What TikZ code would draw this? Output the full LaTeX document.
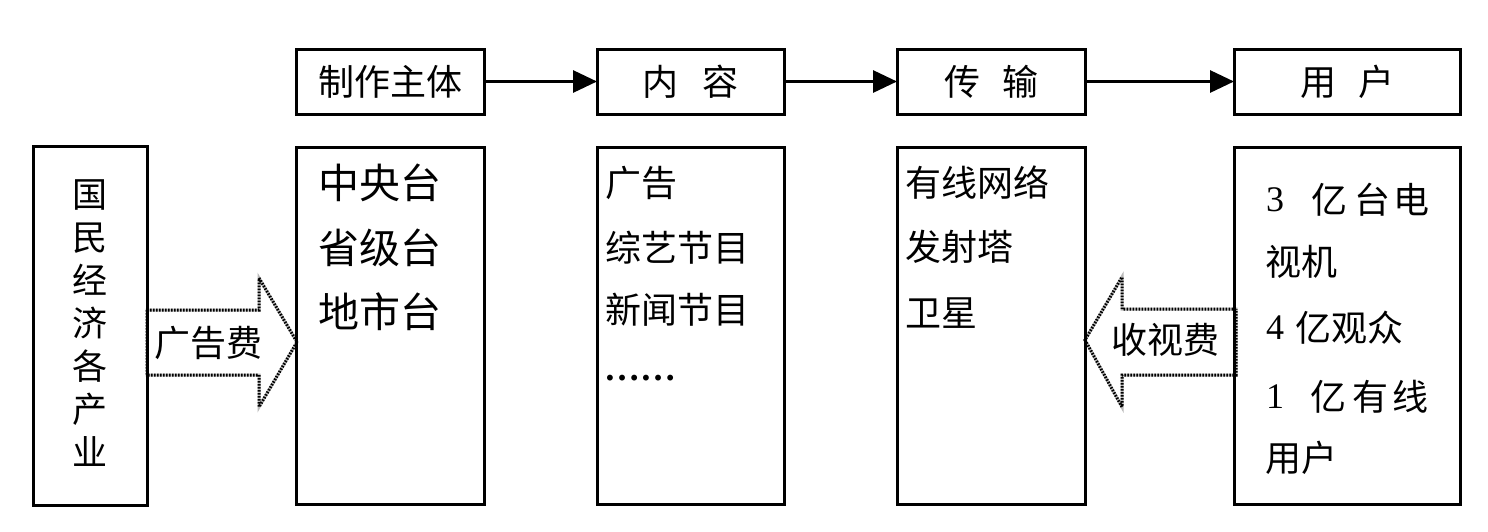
\documentclass[tikz,border=0pt]{standalone}
\usepackage{fontspec}
\setmainfont{Liberation Serif}
\newfontfamily\cjk{Noto Sans CJK SC}
\usetikzlibrary{arrows.meta}
\begin{document}
\begin{tikzpicture}[x=1pt,y=-1pt,
  box/.style={draw,line width=3pt,inner sep=0pt,outer sep=0pt},
  lbl/.style={font=\cjk\fontsize{36}{36}\selectfont,inner sep=0pt},
  big/.style={font=\cjk\fontsize{41}{41}\selectfont,inner sep=0pt},
  num/.style={font=\fontsize{36}{36}\selectfont,inner sep=0pt},
  conn/.style={line width=3pt,-{Triangle[length=24pt,width=22pt]}},
  blockunder/.style={draw=gray!55,line width=3pt,line join=miter},
  blockarrow/.style={draw=black,line width=3pt,dash pattern=on 1.5pt off 1.5pt}]
\useasboundingbox[fill=white] (0,0) rectangle (1488,531);

% hollow block arrows
\draw[blockunder] (147,310) -- (259,310) -- (259,278) -- (297,342) -- (259,407) -- (259,375) -- (147,375) -- cycle;
\draw[blockarrow] (147,310) -- (259,310) -- (259,278) -- (297,342) -- (259,407) -- (259,375) -- (147,375) -- cycle;
\draw[blockunder] (1236,309) -- (1122,309) -- (1122,277) -- (1085,340) -- (1122,407) -- (1122,375) -- (1236,375) -- cycle;
\draw[blockarrow] (1236,309) -- (1122,309) -- (1122,277) -- (1085,340) -- (1122,407) -- (1122,375) -- (1236,375) -- cycle;

% top row
\node[box,minimum width=188pt,minimum height=65pt] (t1) at (390,81.5) {};
\node[box,minimum width=187pt,minimum height=65pt] (t2) at (690.5,81.5) {};
\node[box,minimum width=188pt,minimum height=65pt] (t3) at (991,81.5) {};
\node[box,minimum width=226pt,minimum height=65pt] (t4) at (1347,81.5) {};
\node[lbl] (t1l) at (390,82) {制作主体};
\node[lbl] (t2l) at (690.5,82) {内\hspace{24pt}容};
\node[lbl] (t3l) at (991,82) {传\hspace{22pt}输};
\node[lbl] (t4l) at (1347,82) {用\hspace{22pt}户};
\draw[conn] (t1.east) -- (t2.west);
\draw[conn] (t2.east) -- (t3.west);
\draw[conn] (t3.east) -- (t4.west);

% bottom row boxes
\node[box,minimum width=114pt,minimum height=359pt] (b0) at (90,325.5) {};
\node[box,minimum width=188pt,minimum height=357pt] (b1) at (390,325.5) {};
\node[box,minimum width=187pt,minimum height=357pt] (b2) at (690.5,325.5) {};
\node[box,minimum width=188pt,minimum height=357pt] (b3) at (991,325.5) {};
\node[box,minimum width=226pt,minimum height=357pt] (b4) at (1347,325.5) {};

% left column text
\node[font=\cjk\fontsize{35}{43}\selectfont,align=center,inner sep=0pt] (b0l) at (90,323.5)
  {国\\民\\经\\济\\各\\产\\业};

% fees
\node[lbl] (fee1) at (208,343) {广告费};
\node[lbl] (fee2) at (1165,340) {收视费};

% producers
\node[big,anchor=west] (p1) at (318,183) {中央台};
\node[big,anchor=west] (p2) at (318,248) {省级台};
\node[big,anchor=west] (p3) at (318,312) {地市台};

% content
\node[lbl,anchor=west] (c1) at (605,183) {广告};
\node[lbl,anchor=west] (c2) at (605,248) {综艺节目};
\node[lbl,anchor=west] (c3) at (605,310) {新闻节目};
\node[font=\bfseries\fontsize{36}{36}\selectfont,inner sep=0pt,anchor=base west] (c4) at (604,380) {……};

% transmission
\node[lbl,anchor=west] (s1) at (905,183) {有线网络};
\node[lbl,anchor=west] (s2) at (905,247) {发射塔};
\node[lbl,anchor=west] (s3) at (905,313) {卫星};

% users
\node[num] (u1a) at (1275,200) {3};
\node[lbl] (u1b) at (1329,200) {亿};
\node[lbl] (u1c) at (1372,200) {台};
\node[lbl] (u1d) at (1411,200) {电};
\node[lbl,anchor=west] (u2) at (1265,262) {视机};
\node[num] (u3a) at (1275,328) {4};
\node[lbl,anchor=west] (u3b) at (1295,328) {亿观众};
\node[num] (u4a) at (1275,397) {1};
\node[lbl] (u4b) at (1328,397) {亿};
\node[lbl] (u4c) at (1370,397) {有};
\node[lbl] (u4d) at (1410,397) {线};
\node[lbl,anchor=west] (u5) at (1265,458) {用户};
\end{tikzpicture}
\end{document}
